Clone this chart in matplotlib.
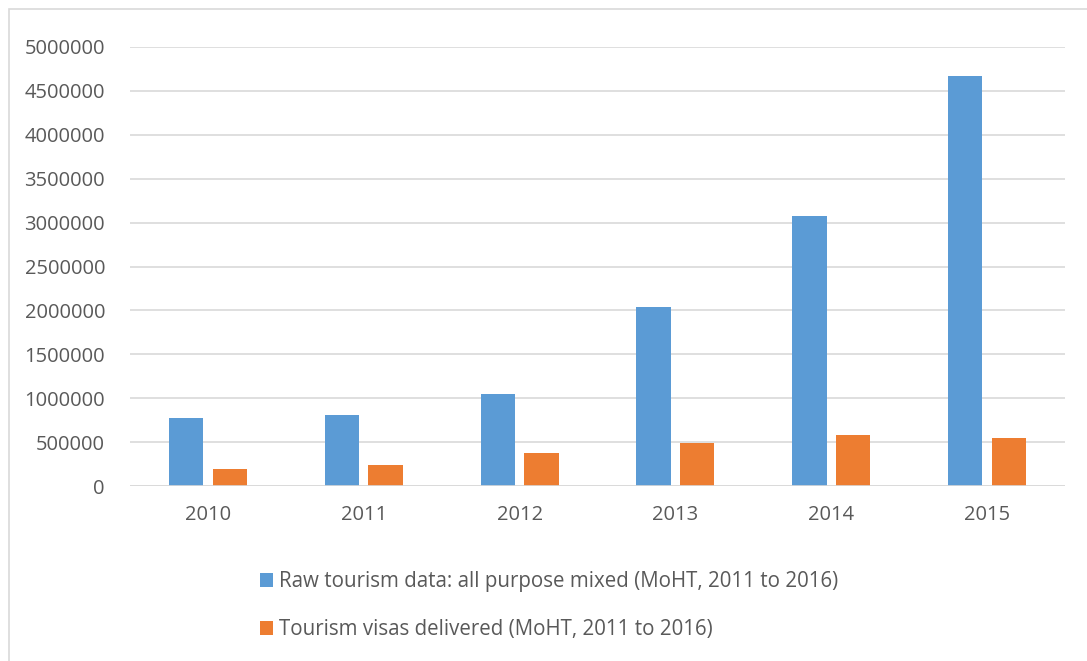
import matplotlib.pyplot as plt
import matplotlib.patches as mpatches
import numpy as np

years = ['2010', '2011', '2012', '2013', '2014', '2015']
raw_tourism = [780000, 807000, 1045000, 2040000, 3070000, 4675000]
tourism_visas = [190000, 239000, 371000, 485000, 583000, 542000]
yticks = [0, 500000, 1000000, 1500000, 2000000, 2500000, 3000000, 3500000, 4000000, 4500000, 5000000]

plt.rcParams['font.family'] = ['Open Sans', 'DejaVu Sans']
text_color = '#595959'

fig = plt.figure(figsize=(10.87, 6.61), dpi=100)
ax = fig.add_axes([130 / 1087, 1 - 486 / 661, 935 / 1087, 439 / 661])

x = np.arange(len(years))
w = 0.22
ax.bar(x - 0.14, raw_tourism, w, color='#5b9bd5', zorder=3,
       label='Raw tourism data: all purpose mixed (MoHT, 2011 to 2016)')
ax.bar(x + 0.14, tourism_visas, w, color='#ed7d31', zorder=3,
       label='Tourism visas delivered (MoHT, 2011 to 2016)')

ax.set_xlim(-0.5, len(years) - 0.5)
ax.set_ylim(0, 5000000)
ax.set_yticks(yticks)
ax.set_yticklabels([str(v) for v in yticks])
ax.set_xticks(x)
ax.set_xticklabels(years)
ax.grid(axis='y', color='#d9d9d9', linewidth=1.2, zorder=0)
for s in ax.spines.values():
    s.set_visible(False)
ax.axhline(0, color='#d9d9d9', linewidth=1.2, zorder=4)
ax.tick_params(length=0, colors=text_color, labelsize=14.5)
ax.tick_params(axis='y', pad=18)
ax.tick_params(axis='x', pad=14)

# outer chart frame
fig.patches.append(mpatches.Rectangle((9 / 1087, -0.01), 1.1, 1 - 9 / 661 + 0.01,
                                      transform=fig.transFigure, fill=False,
                                      edgecolor='#d9d9d9', linewidth=1.2))

leg = fig.legend(loc='upper left', bbox_to_anchor=(241 / 1087, 1 - 553 / 661),
                 frameon=False, fontsize=14.8, labelspacing=1.3,
                 handlelength=0.65, handleheight=0.65, handletextpad=0.3)
for t in leg.get_texts():
    t.set_color(text_color)

fig.savefig('out.png', dpi=100)
